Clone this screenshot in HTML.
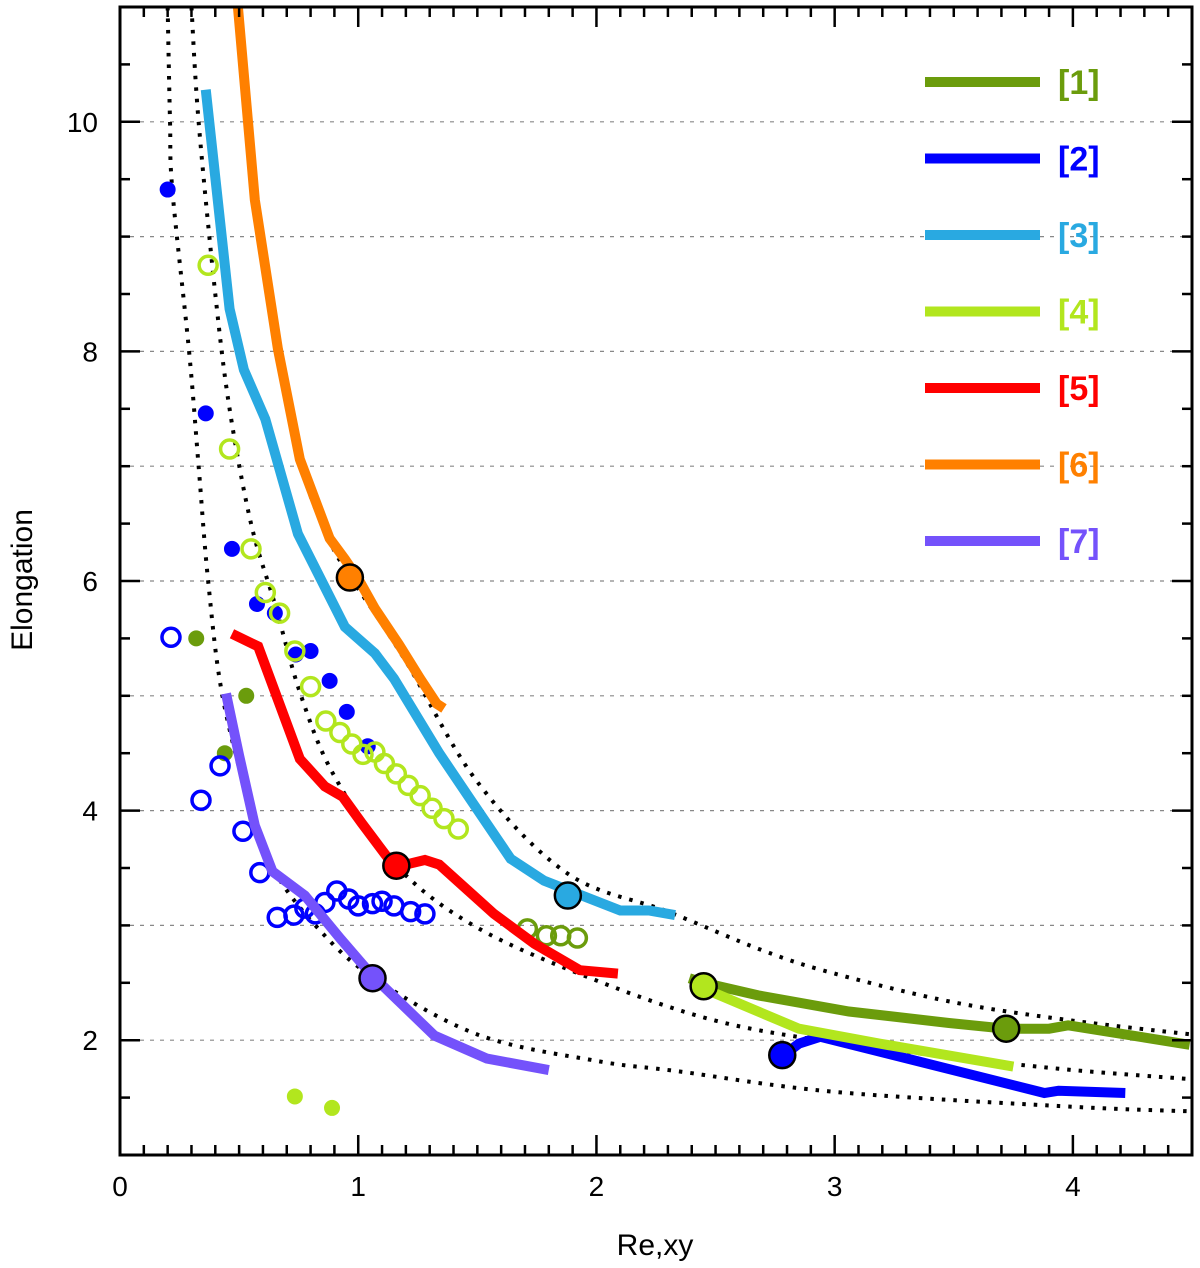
<!DOCTYPE html>
<html><head><meta charset="utf-8"><style>
html,body{margin:0;padding:0;background:#fff;}
svg{display:block;font-family:"Liberation Sans",sans-serif;}
</style></head><body>
<svg id="chart" width="1200" height="1268" viewBox="0 0 1200 1268" xmlns="http://www.w3.org/2000/svg">
<g id="grid"></g>
<g id="refs"></g>
<g id="series"></g>
<g id="axes"></g>
<g id="legend"></g>
<text x="655" y="1255" font-size="30" text-anchor="middle">Re,xy</text>
<text transform="translate(32,580) rotate(-90)" font-size="30" text-anchor="middle">Elongation</text>
</svg>
<script>
const xTicks=[0,1,2,3,4];
const yTicks=[2,4,6,8,10];
const yGrid=[2,3,4,5,6,7,8,9,10];
const refA=[[0.2,11],[0.21,10],[0.22,9.4],[0.29,8],[0.33,7],[0.37,6],[0.43,5],[0.55,4],[0.64,3.5],[0.82,3],[1.06,2.55],[1.5,2.05],[2,1.82],[2.34,1.73],[3,1.55],[4,1.42],[4.5,1.38]];
const refB=[[0.3,11],[0.33,10],[0.4,8.5],[0.46,7.5],[0.55,6.5],[0.65,5.8],[0.76,5.0],[0.9,4.3],[1.16,3.52],[1.5,2.98],[2,2.52],[2.5,2.17],[3,1.98],[3.5,1.85],[4,1.74],[4.5,1.66]];
const refC=[[0.49,11],[0.55,9.5],[0.65,8.1],[0.76,7.0],[0.88,6.35],[0.97,6.03],[1.2,5.3],[1.5,4.25],[1.88,3.45],[2.3,3.12],[2.7,2.78],[3,2.58],[3.5,2.33],[4,2.17],[4.5,2.05]];
const line1=[[2.39,2.54],[2.45,2.5],[2.68,2.39],[3.06,2.25],[3.48,2.15],[3.72,2.1],[3.9,2.1],[3.98,2.13],[4.49,1.96]];
const line2=[[2.78,1.86],[2.85,1.97],[2.94,2.03],[3.88,1.54],[3.94,1.56],[4.22,1.54]];
const line3=[[0.36,10.28],[0.46,8.37],[0.52,7.84],[0.61,7.41],[0.747,6.41],[0.944,5.6],[1.07,5.37],[1.15,5.15],[1.34,4.5],[1.47,4.1],[1.64,3.58],[1.78,3.39],[1.89,3.3],[2.1,3.13],[2.22,3.13],[2.33,3.09]];
const line4=[[2.45,2.45],[2.85,2.1],[3.19,1.97],[3.75,1.77]];
const line5=[[0.47,5.54],[0.58,5.43],[0.755,4.45],[0.86,4.21],[0.935,4.12],[1.015,3.89],[1.12,3.6],[1.2,3.53],[1.28,3.57],[1.34,3.53],[1.57,3.1],[1.74,2.84],[1.93,2.61],[2.09,2.58]];
const line6=[[0.495,11],[0.566,9.32],[0.663,8.02],[0.755,7.06],[0.88,6.37],[0.944,6.19],[1.0,6.02],[1.07,5.76],[1.17,5.45],[1.26,5.15],[1.33,4.93],[1.36,4.89]];
const line7=[[0.445,5.02],[0.5,4.48],[0.566,3.87],[0.64,3.47],[0.776,3.26],[0.923,2.89],[1.06,2.56],[1.32,2.04],[1.54,1.84],[1.8,1.74]];
const bigMarkers=[[3.72,2.1,'#6b9c0c'],[2.78,1.87,'#0000ff'],[1.88,3.26,'#29a9e1'],[2.45,2.47,'#b2e61e'],[1.16,3.52,'#ff0000'],[0.965,6.03,'#ff8000'],[1.06,2.54,'#7452fb']];
const blueDots=[[0.2,9.41],[0.36,7.46],[0.47,6.28],[0.575,5.8],[0.65,5.72],[0.738,5.36],[0.8,5.39],[0.88,5.13],[0.952,4.86],[1.04,4.56]];
const blueRings=[[0.214,5.51],[0.42,4.39],[0.34,4.09],[0.516,3.82],[0.587,3.46],[0.66,3.07],[0.73,3.09],[0.776,3.15],[0.82,3.1],[0.86,3.2],[0.91,3.3],[0.96,3.23],[1.0,3.17],[1.06,3.19],[1.1,3.21],[1.15,3.17],[1.22,3.12],[1.28,3.1]];
const limeRings=[[0.37,8.75],[0.46,7.15],[0.55,6.28],[0.61,5.9],[0.67,5.72],[0.734,5.39],[0.8,5.08],[0.864,4.78],[0.923,4.68],[0.973,4.58],[1.02,4.49],[1.07,4.51],[1.11,4.41],[1.16,4.32],[1.21,4.22],[1.26,4.13],[1.31,4.02],[1.36,3.93],[1.42,3.84]];
const oliveDots=[[0.32,5.5],[0.53,5.0],[0.44,4.5]];
const oliveRings=[[1.71,2.97],[1.79,2.91],[1.85,2.91],[1.92,2.89]];
const limeDots=[[0.734,1.51],[0.89,1.41]];
const legendLabels=['[1]','[2]','[3]','[4]','[5]','[6]','[7]'];
const legendColors=['#6b9c0c','#0000ff','#29a9e1','#b2e61e','#ff0000','#ff8000','#7452fb'];

const X0=120,X1=1192,Y0=7,Y1=1155,XMIN=0,XMAX=4.5,YMIN=1,YMAX=11;
const sx=v=>X0+(v-XMIN)/(XMAX-XMIN)*(X1-X0);
const sy=v=>Y1-(v-YMIN)/(YMAX-YMIN)*(Y1-Y0);
const NS='http://www.w3.org/2000/svg';
function mk(parent,tag,attrs){const e=document.createElementNS(NS,tag);for(const k in attrs)e.setAttribute(k,attrs[k]);parent.appendChild(e);return e;}
const grid=document.getElementById('grid'),refs=document.getElementById('refs'),ser=document.getElementById('series'),axes=document.getElementById('axes'),leg=document.getElementById('legend');

yGrid.forEach(v=>{const l=mk(grid,'line',{x1:X0,x2:X1,y1:sy(v),y2:sy(v),stroke:'#888','stroke-width':1.2,'stroke-dasharray':'4 6'});

});

function smooth(pts){let d='M'+sx(pts[0][0])+','+sy(pts[0][1]);
for(let i=0;i<pts.length-1;i++){const p0=pts[Math.max(0,i-1)],p1=pts[i],p2=pts[i+1],p3=pts[Math.min(pts.length-1,i+2)];
const a=[sx(p0[0]),sy(p0[1])],b=[sx(p1[0]),sy(p1[1])],c=[sx(p2[0]),sy(p2[1])],e=[sx(p3[0]),sy(p3[1])];
d+=' C'+(b[0]+(c[0]-a[0])/6)+','+(b[1]+(c[1]-a[1])/6)+' '+(c[0]-(e[0]-b[0])/6)+','+(c[1]-(e[1]-b[1])/6)+' '+c[0]+','+c[1];}
return d;}
[refA,refB,refC].forEach((r,i)=>{const p=mk(refs,'path',{d:smooth(r),fill:'none',stroke:'#000','stroke-width':4,'stroke-dasharray':'3.5 8'});

});

const cp=mk(document.getElementById('chart'),'clipPath',{id:'clip'});mk(cp,'rect',{x:X0,y:Y0,width:X1-X0,height:Y1-Y0});
refs.setAttribute('clip-path','url(#clip)');ser.setAttribute('clip-path','url(#clip)');

const lines=[line1,line2,line3,line4,line5,line6,line7];
function poly(pts){return pts.map(p=>sx(p[0])+','+sy(p[1])).join(' ');}
function dot(pts,color,name){pts.forEach(p=>{const c=mk(ser,'circle',{cx:sx(p[0]),cy:sy(p[1]),r:8,fill:color});

});}
function ring(pts,color,name){pts.forEach(p=>{const c=mk(ser,'circle',{cx:sx(p[0]),cy:sy(p[1]),r:9,fill:'none',stroke:color,'stroke-width':3.5});

});}
ring(oliveRings,'#6b9c0c','series-1-ring');
dot(oliveDots,'#6b9c0c','series-1-dot');
dot(blueDots,'#0000ff','series-2-dot');
ring(blueRings,'#0000ff','series-2-ring');
dot(limeDots,'#b2e61e','series-4-dot');
ring(limeRings,'#b2e61e','series-4-ring');
[0,2,4,5,6,1,3].forEach(i=>{const pl=mk(ser,'polyline',{points:poly(lines[i]),fill:'none',stroke:legendColors[i],'stroke-width':10,'stroke-linejoin':'miter'});

});
bigMarkers.forEach((m,i)=>{const c=mk(ser,'circle',{cx:sx(m[0]),cy:sy(m[1]),r:13,fill:m[2],stroke:'#000','stroke-width':2.5});

});

const fr=mk(axes,'rect',{x:X0,y:Y0,width:X1-X0,height:Y1-Y0,fill:'none',stroke:'#000','stroke-width':3});


for(let k=0;k<=45;k++){const v=k/10,maj=k%10==0,len=maj?20:10;
mk(axes,'line',{x1:sx(v),x2:sx(v),y1:Y1,y2:Y1-len,stroke:'#000','stroke-width':2.5});
mk(axes,'line',{x1:sx(v),x2:sx(v),y1:Y0,y2:Y0+len,stroke:'#000','stroke-width':2.5});}
for(let k=2;k<=22;k++){const v=k/2,maj=(v%2==0),len=maj?20:10;
mk(axes,'line',{x1:X0,x2:X0+len,y1:sy(v),y2:sy(v),stroke:'#000','stroke-width':2.5});
mk(axes,'line',{x1:X1,x2:X1-len,y1:sy(v),y2:sy(v),stroke:'#000','stroke-width':2.5});}
xTicks.forEach(v=>{const t=mk(axes,'text',{x:sx(v),y:1196,'font-size':28,'text-anchor':'middle'});t.textContent=v;

});
yTicks.forEach(v=>{const t=mk(axes,'text',{x:98,y:sy(v)+10,'font-size':28,'text-anchor':'end'});t.textContent=v;

});

legendLabels.forEach((lab,i)=>{const y=82+i*76.5;
const g=mk(leg,'g',{});


mk(g,'line',{x1:925,x2:1040,y1:y,y2:y,stroke:legendColors[i],'stroke-width':10});
const t=mk(g,'text',{x:1058,y:y+12,'font-size':34,'font-weight':'bold',fill:legendColors[i]});t.textContent=lab;});
</script>
</body></html>
